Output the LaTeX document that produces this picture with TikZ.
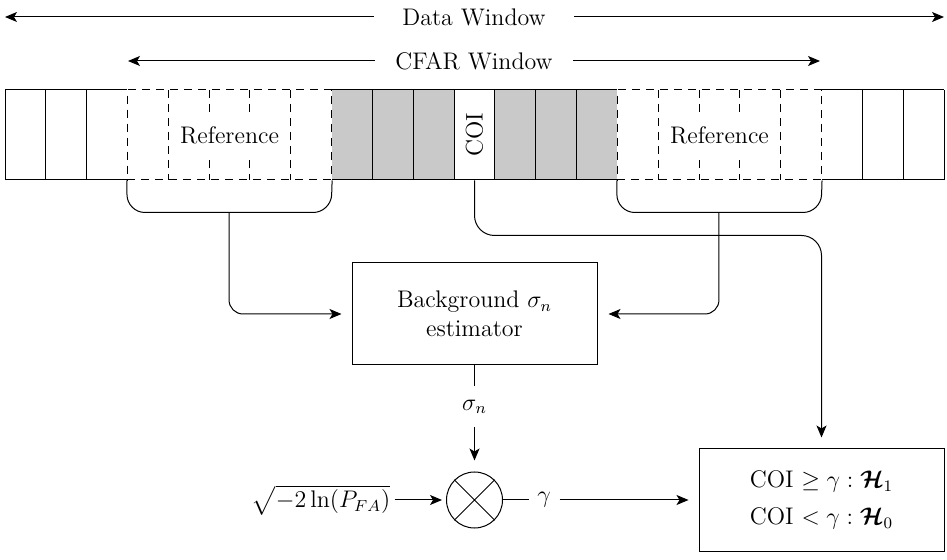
\documentclass[tikz,border=0pt]{standalone}
\usepackage{amsmath,amssymb,bm}
\usetikzlibrary{arrows.meta,calc}
\begin{document}
\begin{tikzpicture}[x=0.5pt,y=-0.5pt,line width=0.5pt,
  arr/.style={-{Stealth[length=6pt,width=5pt,inset=1.5pt]}},
  refdash/.style={dash pattern=on 4pt off 3pt},
  cellgrey/.style={fill=black!21},
  lbl/.style={font=\fontsize{12}{14.5}\selectfont},
  refblk/.style={draw,refdash,minimum width=102.07pt,minimum height=45pt,inner sep=0pt},
  blk/.style={draw,rectangle,inner sep=0pt,minimum width=122.5pt,minimum height=51pt,align=center,font=\fontsize{12}{14.5}\selectfont}]
\useasboundingbox (0,0) rectangle (947,560);
\def\w{40.826}
% top windows
\node[lbl,inner xsep=14pt] (dw) at (474,17) {Data Window};
\coordinate (dwL) at (5,17);
\coordinate (dwR) at (944,17);
\draw[arr] (dw.west) -- (dwL);
\draw[arr] (dw.east) -- (dwR);
\node[lbl,inner xsep=10pt] (cw) at (474,61) {CFAR Window};
\coordinate (cwL) at (128,61);
\coordinate (cwR) at (820,61);
\draw[arr] (cw.west) -- (cwL);
\draw[arr] (cw.east) -- (cwR);
% grey cells
\fill[cellgrey] (331.61,90) rectangle (454.09,180);
\fill[cellgrey] (494.91,90) rectangle (617.39,180);
% solid edges
\draw (5,90) -- (127.48,90) (5,180) -- (127.48,180);
\draw (331.61,90) -- (617.39,90) (331.61,180) -- (617.39,180);
\draw (821.52,90) -- (944,90) (821.52,180) -- (944,180);
\foreach \i in {0,1,2,9,10,11,12,13,14,21,22,23}
  \draw ({5+\i*\w},90) -- ({5+\i*\w},180);
% reference blocks
\node[refblk] (refL) at (229.545,135) {};
\node[refblk] (refR) at (719.455,135) {};
\foreach \i in {4,5,6,7,16,17,18,19}
  \draw[refdash] ({5+\i*\w},90) -- ({5+\i*\w},180);
\node[lbl,fill=white,inner xsep=2pt,inner ysep=6pt] (refLt) at (refL) {Reference};
\node[lbl,fill=white,inner xsep=2pt,inner ysep=6pt] (refRt) at (refR) {Reference};
% COI cell
\node[minimum width=20.413pt,minimum height=45pt,inner sep=0pt] (coi) at (474.5,135) {};
\node[lbl,rotate=90] (coit) at (coi) {COI};
% braces
\draw[rounded corners=9pt] (refL.south west) -- ++(0,32) -- coordinate (braceL) ++(204.13,0) -- (refL.south east);
\draw[rounded corners=9pt] (refR.south west) -- ++(0,32) -- coordinate (braceR) ++(204.13,0) -- (refR.south east);
% estimator
\node[blk] (est) at (474.5,314) {Background $\sigma_n$\\estimator};
\draw[arr,rounded corners=7pt,shorten >=5pt] (braceL) |- (est.west);
\draw[arr,rounded corners=7pt,shorten >=5.5pt] (braceR) |- (est.east);
% decision
\node[blk,font=\fontsize{12}{18.5}\selectfont] (dec) at (821.5,500) {COI $\geq \gamma : \bm{\mathcal{H}}_1$\\COI $< \gamma : \bm{\mathcal{H}}_0$};
\coordinate (coiturn) at (821.5,235.5);
\draw[arr,rounded corners=10pt,shorten >=5.5pt] (coi.south) |- (coiturn) -- (dec.north);
% multiplier
\node[draw,circle,minimum size=28pt,inner sep=0pt] (mult) at (474.5,500) {};
\draw (mult.north west) -- (mult.south east) (mult.north east) -- (mult.south west);
\node[lbl,minimum height=20pt,inner sep=0pt] (sig) at (474.5,407) {$\sigma_n$};
\draw (est.south) -- (sig.north);
\draw[arr,shorten >=5.5pt] (sig.south) -- (mult.north);
\node[lbl,inner sep=2pt] (pfa) at (321,500) {$\sqrt{-2\ln(P_{FA})}$};
\draw[arr,shorten >=2pt] (pfa.east) -- (mult.west);
\node[lbl,minimum width=15pt,inner sep=0pt] (gam) at (544,500) {$\gamma$};
\draw (mult.east) -- (gam.west);
\draw[arr,shorten >=5pt] (gam.east) -- (dec.west);
\end{tikzpicture}
\end{document}
